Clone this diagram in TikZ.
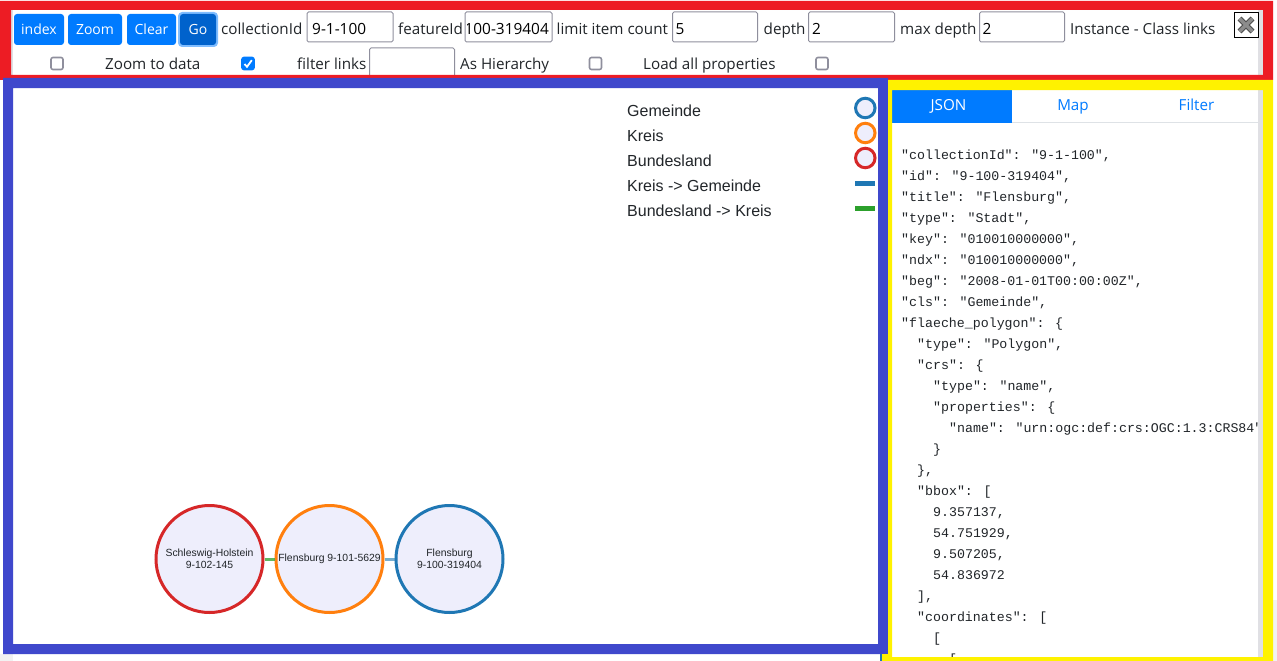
\documentclass[tikz,border=0pt]{standalone}
\usepackage{fontspec}
\setmainfont{Open Sans}
\newfontfamily\arialf{Liberation Sans}
\newfontfamily\monof{Liberation Mono}
\definecolor{redb}{HTML}{ED1C24}
\definecolor{blueb}{HTML}{3F48CC}
\definecolor{yellowb}{HTML}{FFF200}
\definecolor{bsblue}{HTML}{007BFF}
\definecolor{bsdark}{HTML}{0062CC}
\definecolor{ring}{HTML}{80BDFF}
\definecolor{inputb}{HTML}{8F8F9D}
\definecolor{nodefill}{HTML}{EEEEFC}
\definecolor{cblue}{HTML}{1F77B4}
\definecolor{corange}{HTML}{FF7F0E}
\definecolor{cred}{HTML}{D62728}
\definecolor{cgreen}{HTML}{2CA02C}
\definecolor{txt}{HTML}{212529}
\definecolor{sbar}{HTML}{E0E0E4}
\definecolor{tabline}{HTML}{DEE2E6}
\tikzset{
  x=1pt,y=-1pt,
  btn/.style={fill=bsblue,rounded corners=3pt,text=white,inner sep=0pt,minimum height=31pt,font=\fontsize{14}{16}\selectfont},
  field/.style={draw=inputb,line width=1pt,fill=white,rounded corners=1.5pt,inner sep=0pt,minimum height=30pt},
  flabel/.style={anchor=base west,inner sep=0pt,text=txt,font=\fontsize{15.2}{18}\selectfont},
  fvalue/.style={anchor=base west,inner sep=0pt,text=black,font=\fontsize{15.4}{18}\selectfont},
  cbox/.style={draw=inputb,line width=1.6pt,fill=white,rounded corners=2pt,minimum size=12pt,inner sep=0pt},
  legtext/.style={anchor=base west,inner sep=0pt,text=txt,font=\arialf\fontsize{16}{19}\selectfont},
  legcirc/.style={circle,draw=#1,line width=3pt,fill=nodefill,minimum size=19.5pt,inner sep=0pt},
  gnode/.style={circle,draw=#1,line width=3pt,fill=nodefill,minimum size=107pt,inner sep=0pt,align=center,text=txt,font=\arialf\fontsize{10.4}{12}\selectfont,execute at begin node={\vspace*{2pt}}},
  tab/.style={anchor=base,inner sep=0pt,font=\fontsize{15.2}{18}\selectfont},
  json/.style={anchor=base west,inner sep=0pt,text=txt,font=\monof\fontsize{13.27}{16}\selectfont},
}
\newcommand{\jline}[3]{\node[json] (j#1) at ({901+16*#2},{159+21.04*#1}) {#3};}
\begin{document}
\begin{tikzpicture}
\useasboundingbox (0,0) rectangle (1277,661);
\fill[white] (0,0) rectangle (1277,661);
% faint page bits
\fill[black!5] (0,654) rectangle (13,661);
\fill[black!5] (1273,600) rectangle (1277,661);
% scrollbars
\fill[sbar] (1258,10) rectangle (1263,76);
\fill[sbar] (1258,90) rectangle (1263,657);
\fill[sbar] (11,10) rectangle (13,76);
% toolbar
\node[btn,minimum width=50pt] (bindex) at (39,29.5) {index};
\node[btn,minimum width=54pt] (bzoom) at (95,29.5) {Zoom};
\node[btn,minimum width=49pt] (bclear) at (151.5,29.5) {Clear};
\node[fill=ring,rounded corners=4pt,minimum width=40pt,minimum height=35pt,inner sep=0pt] (goring) at (198,29.5) {};
\node[btn,fill=bsdark,minimum width=36pt] (bgo) at (198,29.5) {Go};
\node[flabel] (lcoll) at (221,35) {collectionId};
\node[field,minimum width=86pt] (icoll) at (350,27) {};
\node[fvalue] (vcoll) at (312,35) {9-1-100};
\node[flabel] (lfeat) at (398,35) {featureId};
\node[field,minimum width=87pt] (ifeat) at (508.5,27) {};
\begin{scope}
\clip (467.5,13) rectangle (551,41);
\node[fvalue,anchor=base east] (vfeat) at (549,35) {100-319404};
\end{scope}
\node[flabel] (llimit) at (556.5,35) {limit item count};
\node[field,minimum width=85pt] (ilimit) at (715,27) {};
\node[fvalue] (vlimit) at (675.5,35) {5};
\node[flabel] (ldepth) at (763.5,35) {depth};
\node[field,minimum width=86pt] (idepth) at (851.5,27) {};
\node[fvalue] (vdepth) at (812,35) {2};
\node[flabel] (lmax) at (900,35) {max depth};
\node[field,minimum width=85pt] (imax) at (1022,27) {};
\node[fvalue] (vmax) at (982.5,35) {2};
\node[flabel] (linst) at (1070,35) {Instance - Class links};
% close button
\node[draw=black,fill=white,line width=1pt,minimum width=24pt,minimum height=25pt,inner sep=0pt] (closeb) at (1246,25) {};
\coordinate (xa) at (1239.5,18.5);
\coordinate (xb) at (1252.5,31.5);
\coordinate (xc) at (1252.5,18.5);
\coordinate (xd) at (1239.5,31.5);
\draw[black!70,line width=5.5pt] (xa) -- (xb) (xc) -- (xd);
\draw[black!45,line width=3.5pt] (xa) -- (xb) (xc) -- (xd);
% second row
\node[cbox] (c1) at (57,63.5) {};
\node[flabel] (lzoomd) at (105,69.5) {Zoom to data};
\node[cbox,fill=bsblue,draw=bsblue] (c2) at (248,63.5) {};
\coordinate (ca) at (244.5,64);
\coordinate (cb) at (247,66.8);
\coordinate (cc) at (251.8,60.2);
\draw[white,line width=1.8pt] (ca) -- (cb) -- (cc);
\node[flabel] (lfilter) at (297,69.5) {filter links};
\node[field,anchor=north west,minimum width=85pt] (ifilter) at (369,47.5) {};
\node[flabel] (lhier) at (460,69.5) {As Hierarchy};
\node[cbox] (c3) at (595.5,63.5) {};
\node[flabel] (lload) at (643,69.5) {Load all properties};
\node[cbox] (c4) at (822,63.5) {};
% red frame
\fill[redb,even odd rule] (0,1) rectangle (1273,80) (11,10) rectangle (1263,75);
% right panel
\node[fill=bsblue,minimum width=120pt,minimum height=33pt,inner sep=0pt,anchor=north west] (tjsonbg) at (892,90) {};
\node[tab,text=white] (tjson) at (948.5,110.5) {JSON};
\node[tab,text=bsblue] (tmap) at (1073,110.5) {Map};
\node[tab,text=bsblue] (tfilter) at (1196.5,110.5) {Filter};
\fill[tabline] (1012,122) rectangle (1258,123);
\begin{scope}
\clip (892,124) rectangle (1258,657);
\jline{0}{0}{"collectionId": "9-1-100",}
\jline{1}{0}{"id": "9-100-319404",}
\jline{2}{0}{"title": "Flensburg",}
\jline{3}{0}{"type": "Stadt",}
\jline{4}{0}{"key": "010010000000",}
\jline{5}{0}{"ndx": "010010000000",}
\jline{6}{0}{"beg": "2008-01-01T00:00:00Z",}
\jline{7}{0}{"cls": "Gemeinde",}
\jline{8}{0}{"flaeche\_polygon": \{}
\jline{9}{1}{"type": "Polygon",}
\jline{10}{1}{"crs": \{}
\jline{11}{2}{"type": "name",}
\jline{12}{2}{"properties": \{}
\jline{13}{3}{"name": "urn:ogc:def:crs:OGC:1.3:CRS84"}
\jline{14}{2}{\}}
\jline{15}{1}{\},}
\jline{16}{1}{"bbox": [}
\jline{17}{2}{9.357137,}
\jline{18}{2}{54.751929,}
\jline{19}{2}{9.507205,}
\jline{20}{2}{54.836972}
\jline{21}{1}{],}
\jline{22}{1}{"coordinates": [}
\jline{23}{2}{[}
\jline{24}{3}{[}
\end{scope}
% blue frame
\fill[blueb,even odd rule] (3,78) rectangle (888,654) (13,88) rectangle (878,644);
% yellow frame
\fill[yellowb,even odd rule] (888,80) rectangle (1273,661) (892,90) rectangle (1263,657);
\fill[yellowb] (882,654) rectangle (892,661);
\fill[cblue] (880,654) rectangle (882,661);
% legend
\node[legtext] (l1) at (627,116) {Gemeinde};
\node[legtext] (l2) at (627,141) {Kreis};
\node[legtext] (l3) at (627,166) {Bundesland};
\node[legtext] (l4) at (627,191) {Kreis -> Gemeinde};
\node[legtext] (l5) at (627,216) {Bundesland -> Kreis};
\node[legcirc=cblue] (lc1) at (865.3,108) {};
\node[legcirc=corange] (lc2) at (865.3,133) {};
\node[legcirc=cred] (lc3) at (865.3,158) {};
\coordinate (m1a) at (855,183);
\coordinate (m1b) at (875,183);
\coordinate (m2a) at (855,208);
\coordinate (m2b) at (875,208);
\draw[cblue,line width=5pt] (m1a) -- (m1b);
\draw[cgreen,line width=5pt] (m2a) -- (m2b);
% graph
\node[gnode=cred] (n1) at (209.5,559) {Schleswig-Holstein\\9-102-145};
\node[gnode=corange] (n2) at (329.5,559) {Flensburg 9-101-5629};
\node[gnode=cblue] (n3) at (449.5,559) {Flensburg\\9-100-319404};
\draw[cgreen,opacity=.75,line width=3pt] (n1) -- (n2);
\draw[cblue,opacity=.6,line width=3pt] (n2) -- (n3);
\end{tikzpicture}
\end{document}
